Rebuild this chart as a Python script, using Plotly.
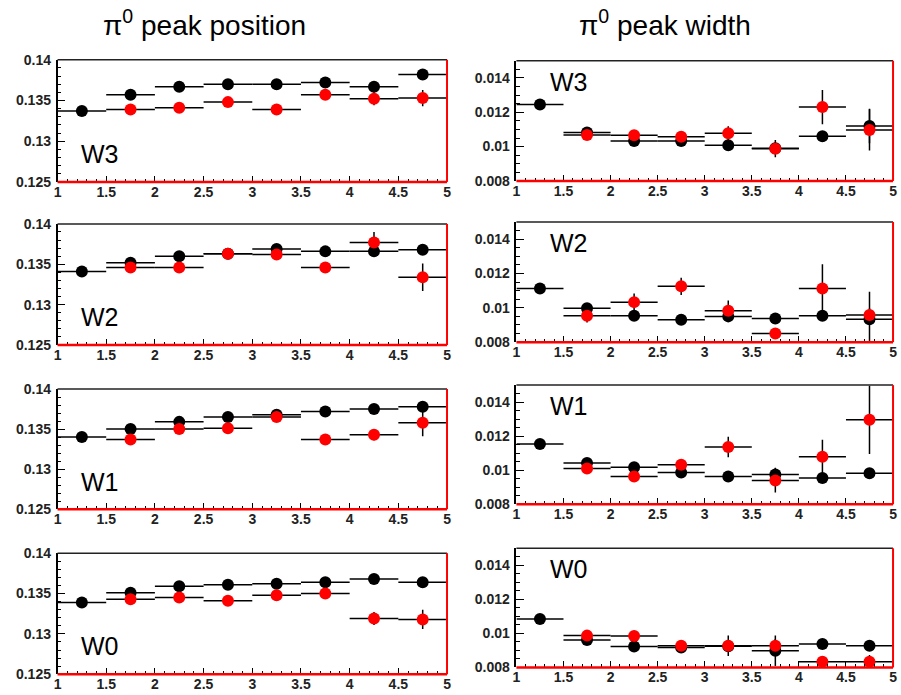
import plotly.graph_objects as go

# ---------------- data ----------------
pt_bins = [1.25, 1.75, 2.25, 2.75, 3.25, 3.75, 4.25, 4.75]
bin_half_width = [0.25] * 8
panel_names = ["W3", "W2", "W1", "W0"]

# peak position (GeV)
pos_W3_black = [0.1337, 0.1357, 0.1367, 0.1370, 0.1370, 0.1372, 0.1367, 0.1382]
pos_W3_black_err = [0.0002, 0.0003, 0.0003, 0.0003, 0.0003, 0.0004, 0.0004, 0.0004]
pos_W3_red = [None, 0.1339, 0.1341, 0.1348, 0.1339, 0.1357, 0.1352, 0.1353]
pos_W3_red_err = [0, 0.0003, 0.0003, 0.0004, 0.0003, 0.0004, 0.0008, 0.0010]

pos_W2_black = [0.1341, 0.1352, 0.1360, 0.1363, 0.1369, 0.1366, 0.1366, 0.1368]
pos_W2_black_err = [0.0002, 0.0003, 0.0003, 0.0003, 0.0003, 0.0003, 0.0004, 0.0004]
pos_W2_red = [None, 0.1346, 0.1346, 0.1363, 0.1362, 0.1346, 0.1377, 0.1334]
pos_W2_red_err = [0, 0.0003, 0.0003, 0.0003, 0.0003, 0.0004, 0.0013, 0.0017]

pos_W1_black = [0.1340, 0.1350, 0.1359, 0.1365, 0.1368, 0.1372, 0.1375, 0.1378]
pos_W1_black_err = [0.0002, 0.0003, 0.0003, 0.0003, 0.0003, 0.0003, 0.0003, 0.0004]
pos_W1_red = [None, 0.1337, 0.1350, 0.1351, 0.1365, 0.1337, 0.1343, 0.1358]
pos_W1_red_err = [0, 0.0003, 0.0003, 0.0003, 0.0003, 0.0003, 0.0007, 0.0017]

pos_W0_black = [0.1339, 0.1351, 0.1359, 0.1361, 0.1362, 0.1364, 0.1368, 0.1364]
pos_W0_black_err = [0.0002, 0.0003, 0.0003, 0.0003, 0.0003, 0.0003, 0.0003, 0.0003]
pos_W0_red = [None, 0.1343, 0.1345, 0.1341, 0.1348, 0.1350, 0.1319, 0.1318]
pos_W0_red_err = [0, 0.0003, 0.0003, 0.0003, 0.0003, 0.0003, 0.0008, 0.0012]

# peak width (GeV)
wid_W3_black = [0.01245, 0.01082, 0.01033, 0.01033, 0.01008, 0.0099, 0.0106, 0.0112]
wid_W3_black_err = [0.0002, 0.0002, 0.0002, 0.0002, 0.0002, 0.0002, 0.0003, 0.0010]
wid_W3_red = [None, 0.01068, 0.01066, 0.01058, 0.01078, 0.00988, 0.0123, 0.01097]
wid_W3_red_err = [0, 0.0002, 0.0003, 0.0003, 0.0004, 0.0005, 0.0010, 0.0012]

wid_W2_black = [0.01113, 0.00998, 0.00954, 0.00931, 0.0095, 0.00938, 0.00954, 0.00933]
wid_W2_black_err = [0.0002, 0.0002, 0.0002, 0.0002, 0.0002, 0.0003, 0.0003, 0.0016]
wid_W2_red = [None, 0.00954, 0.01033, 0.01125, 0.00983, 0.0085, 0.01113, 0.00958]
wid_W2_red_err = [0, 0.0004, 0.0005, 0.0005, 0.0006, 0.0003, 0.0014, 0.0004]

wid_W1_black = [0.01154, 0.01042, 0.01017, 0.00987, 0.00963, 0.00975, 0.00954, 0.00983]
wid_W1_black_err = [0.0002, 0.0002, 0.0002, 0.0002, 0.0002, 0.0004, 0.0003, 0.0003]
wid_W1_red = [None, 0.0101, 0.00963, 0.01033, 0.01137, 0.0094, 0.01079, 0.01296]
wid_W1_red_err = [0, 0.0003, 0.0003, 0.0003, 0.0006, 0.0007, 0.0010, 0.0020]

wid_W0_black = [0.01085, 0.00961, 0.00923, 0.00917, 0.00925, 0.00898, 0.00938, 0.00927]
wid_W0_black_err = [0.0002, 0.0002, 0.0002, 0.0002, 0.0002, 0.0009, 0.0003, 0.0003]
wid_W0_red = [None, 0.00987, 0.00985, 0.00927, 0.00927, 0.00927, 0.00833, 0.00833]
wid_W0_red_err = [0, 0.0003, 0.0003, 0.0003, 0.0006, 0.0004, 0.0003, 0.0004]

column_titles = ["π<sup>0</sup> peak position", "π<sup>0</sup> peak width"]

pos_black = [pos_W3_black, pos_W2_black, pos_W1_black, pos_W0_black]
pos_black_err = [pos_W3_black_err, pos_W2_black_err, pos_W1_black_err, pos_W0_black_err]
pos_red = [pos_W3_red, pos_W2_red, pos_W1_red, pos_W0_red]
pos_red_err = [pos_W3_red_err, pos_W2_red_err, pos_W1_red_err, pos_W0_red_err]
wid_black = [wid_W3_black, wid_W2_black, wid_W1_black, wid_W0_black]
wid_black_err = [wid_W3_black_err, wid_W2_black_err, wid_W1_black_err, wid_W0_black_err]
wid_red = [wid_W3_red, wid_W2_red, wid_W1_red, wid_W0_red]
wid_red_err = [wid_W3_red_err, wid_W2_red_err, wid_W1_red_err, wid_W0_red_err]

# ---------------- layout geometry (screen pixels; body margin removed) ----------------
W, H = 901, 695
left_x = (54, 447)
right_x = (517, 897)
left_y = [(53, 178), (221, 345), (390, 513), (558, 682)]
right_y = [(54, 177), (219, 342), (386, 508), (553, 675)]

def fx(p):
    return min(max(p / W, 0), 1)

def fy(p):
    return min(max(1 - p / H, 0), 1)

fig = go.Figure()
layout = dict(width=W, height=H, margin=dict(l=0, r=0, t=0, b=0),
              paper_bgcolor="white", plot_bgcolor="white", showlegend=False)
shapes = []
annotations = []

tickfont = dict(family="Liberation Sans, Arial", size=14, color="#222222", weight="bold")

def add_panel(idx, xpix, ypix, yrange, ydtick, yminor, black, black_err, red, red_err, label, label_pos):
    xa = "xaxis" if idx == 1 else f"xaxis{idx}"
    ya = "yaxis" if idx == 1 else f"yaxis{idx}"
    xr = "x" if idx == 1 else f"x{idx}"
    yr = "y" if idx == 1 else f"y{idx}"
    layout[xa] = dict(domain=[fx(xpix[0]), fx(xpix[1])], anchor=yr, range=[1, 5],
                      dtick=0.5, tick0=1, ticks="inside", ticklen=6, tickcolor="black",
                      showgrid=False, zeroline=False, showline=False,
                      tickfont=tickfont, ticklabelstandoff=0,
                      minor=dict(dtick=0.1, ticks="inside", ticklen=3, tickcolor="black"))
    layout[ya] = dict(domain=[fy(ypix[1]), fy(ypix[0])], anchor=xr, range=yrange,
                      dtick=ydtick, ticks="inside", ticklen=8, tickcolor="black",
                      showgrid=False, zeroline=False, showline=True, linecolor="black",
                      linewidth=1.5, tickfont=tickfont, ticklabelstandoff=2,
                      minor=dict(dtick=yminor, ticks="inside", ticklen=4, tickcolor="black"))
    for ys, es, col in ((black, black_err, "black"), (red, red_err, "red")):
        fig.add_trace(go.Scatter(
            x=pt_bins, y=ys, mode="markers", xaxis=xr, yaxis=yr,
            marker=dict(color=col, size=12, symbol="circle"),
            error_x=dict(type="data", array=bin_half_width, color="black", thickness=1.5, width=0),
            error_y=dict(type="data", array=es, color="black", thickness=1.5, width=0),
            cliponaxis=True))
    shapes.append(dict(type="line", xref=f"{xr} domain", yref=f"{yr} domain",
                       x0=0, x1=1, y0=1, y1=1, line=dict(color="#222", width=1.5)))
    shapes.append(dict(type="line", xref=f"{xr} domain", yref=f"{yr} domain",
                       x0=1, x1=1, y0=0, y1=1, line=dict(color="red", width=2)))
    shapes.append(dict(type="line", xref=f"{xr} domain", yref=f"{yr} domain",
                       x0=0, x1=1, y0=0, y1=0, line=dict(color="red", width=2.5)))
    annotations.append(dict(text=label, xref=f"{xr} domain", yref=f"{yr} domain",
                            x=label_pos[0], y=label_pos[1], showarrow=False,
                            xanchor="left", yanchor="middle",
                            font=dict(family="Liberation Sans, Arial", size=25, color="black")))

idx = 1
for r in range(4):
    add_panel(idx, left_x, left_y[r], [0.125, 0.14], 0.005, 0.001,
              pos_black[r], pos_black_err[r], pos_red[r], pos_red_err[r],
              panel_names[r], (0.055, 0.23))
    idx += 1
    add_panel(idx, right_x, right_y[r], [0.008, 0.015], 0.002, 0.0005,
              wid_black[r], wid_black_err[r], wid_red[r], wid_red_err[r],
              panel_names[r], (0.085, 0.825))
    idx += 1

annotations.append(dict(text=column_titles[0], xref="paper", yref="paper",
                        x=fx(202), y=fy(15), showarrow=False, xanchor="center", yanchor="middle",
                        font=dict(family="Liberation Sans, Arial", size=28, color="black")))
annotations.append(dict(text=column_titles[1], xref="paper", yref="paper",
                        x=fx(667), y=fy(15), showarrow=False, xanchor="center", yanchor="middle",
                        font=dict(family="Liberation Sans, Arial", size=28, color="black")))

layout["shapes"] = shapes
layout["annotations"] = annotations
fig.update_layout(**layout)
fig.write_html("out.html", config={"displayModeBar": False},
               post_script="document.body.style.margin='0';document.body.style.overflow='hidden';")
